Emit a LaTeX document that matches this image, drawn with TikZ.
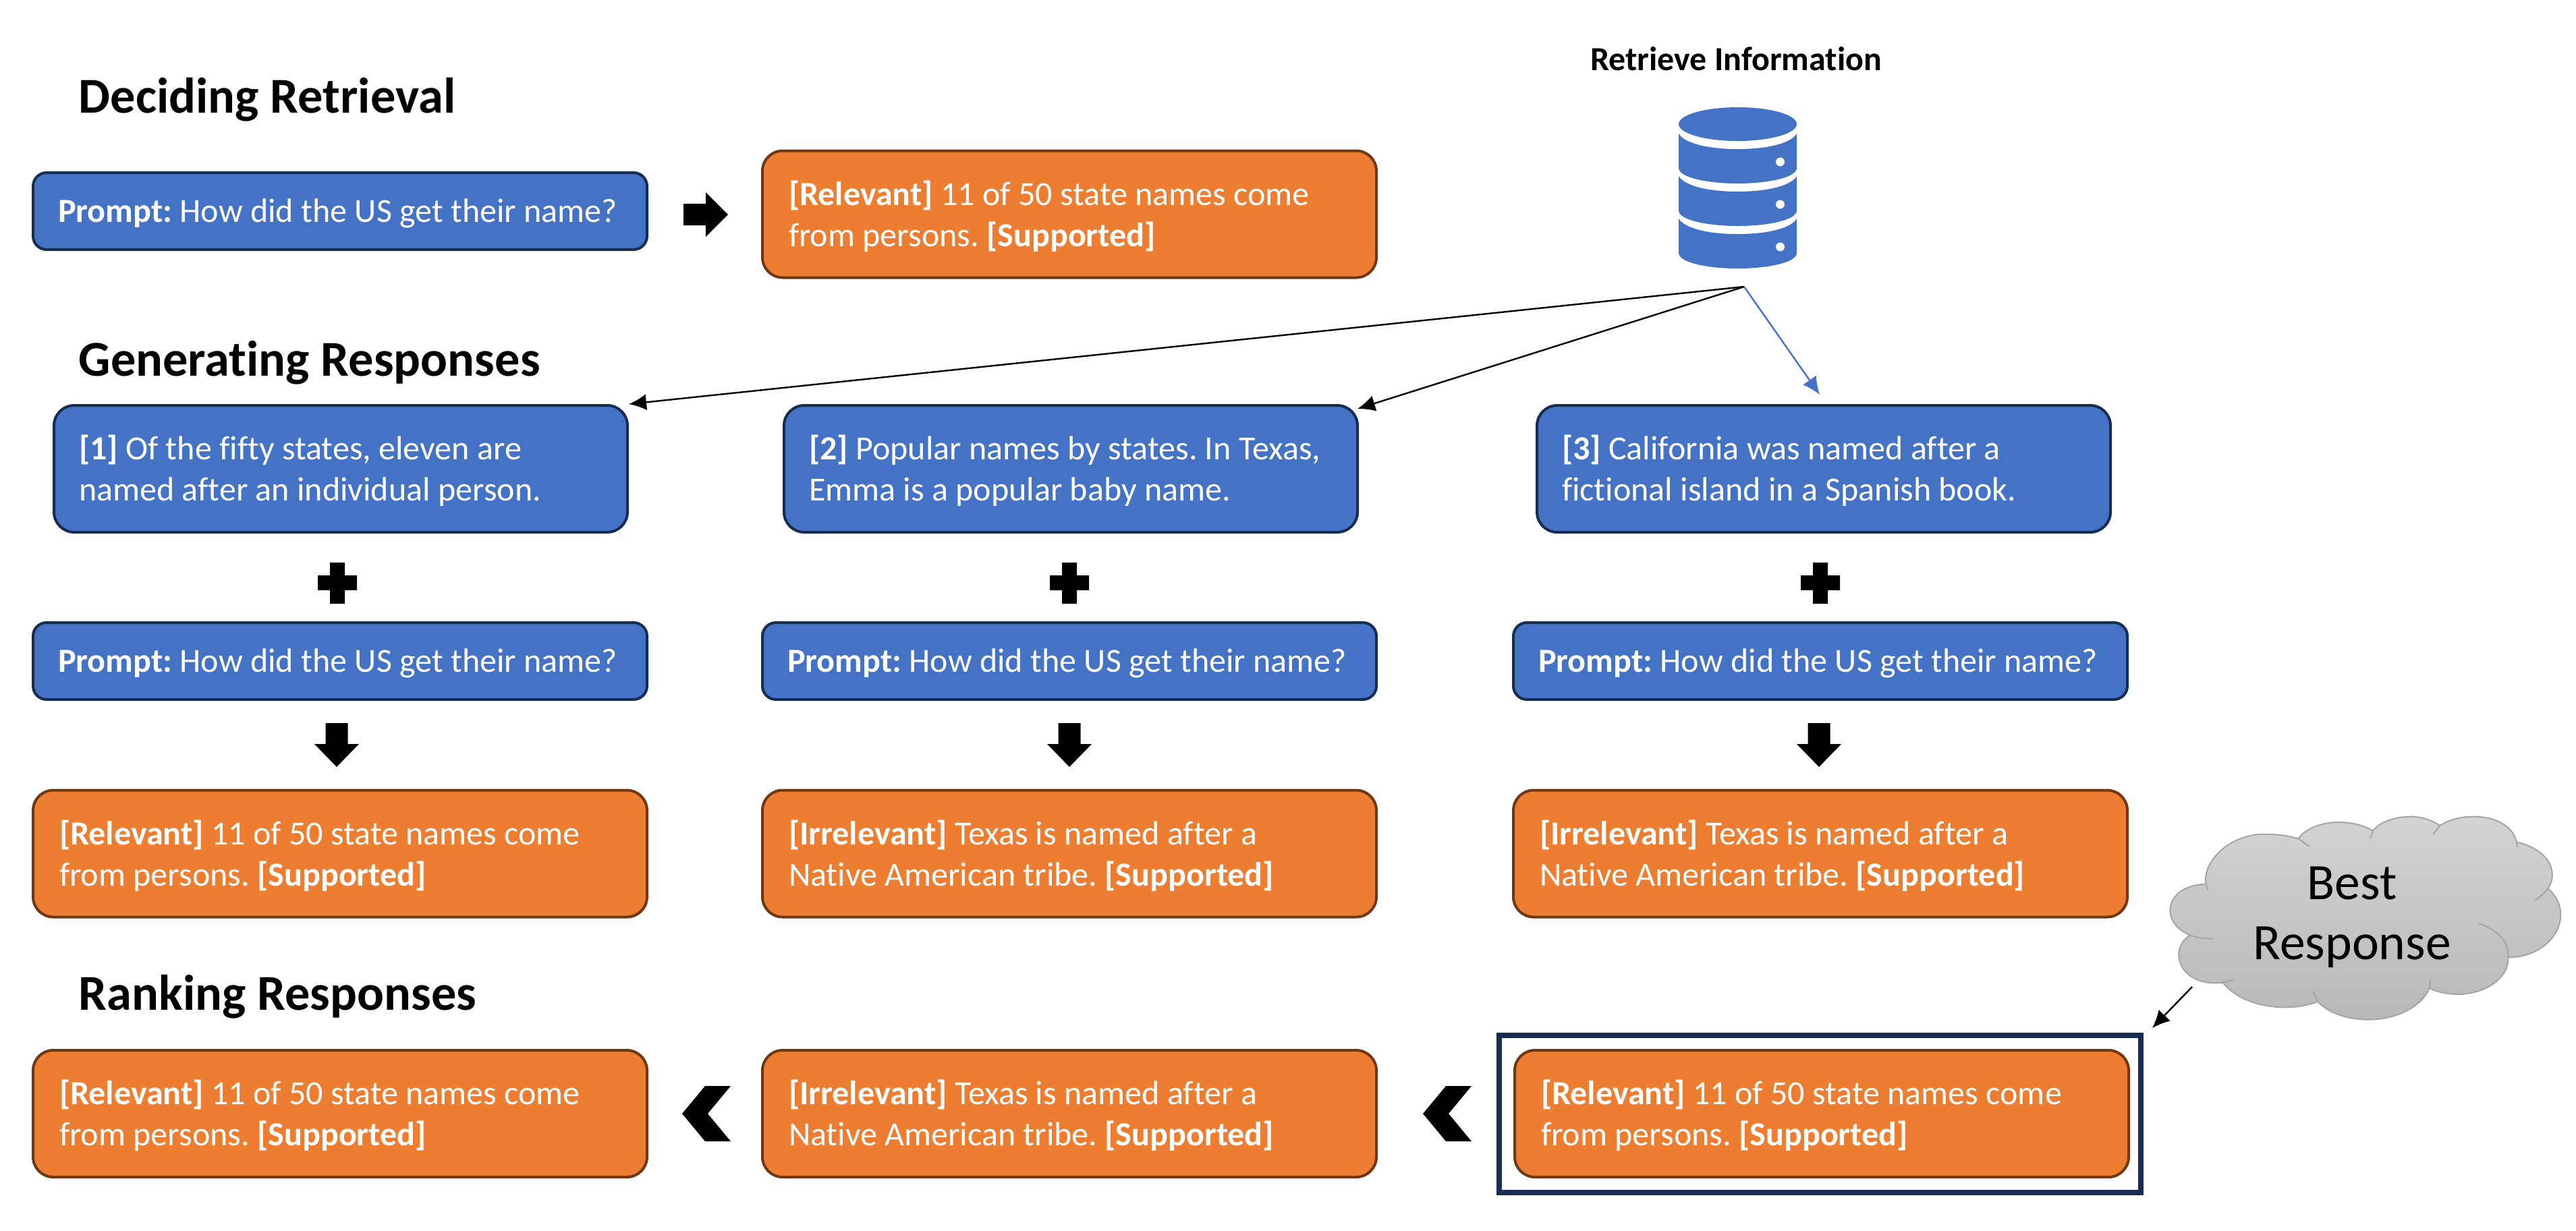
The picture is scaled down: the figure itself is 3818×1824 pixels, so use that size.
\documentclass[tikz,border=0pt]{standalone}
\usepackage{fontspec}
\setmainfont[Ligatures=NoCommon]{Carlito}
\AtBeginDocument{\frenchspacing}
\usetikzlibrary{arrows.meta,calc}
\definecolor{bluefill}{HTML}{4472C4}
\definecolor{blueline}{HTML}{172C51}
\definecolor{orangefill}{HTML}{ED7D31}
\definecolor{orangeline}{HTML}{6F3712}
\definecolor{cloudedge}{HTML}{A5A5A5}
\definecolor{cloudtop}{HTML}{D3D3D3}
\definecolor{cloudbottom}{HTML}{B8B8B8}
\tikzset{
  basebox/.style={draw,line width=1pt,text=white,align=flush left,inner sep=0pt,anchor=center,font=\fontsize{12.52}{15.3}\selectfont,execute at begin node={\rule{0pt}{10.6pt}}},
  promptbox/.style={basebox,fill=bluefill,draw=blueline,rounded corners=5pt,minimum width=227.5pt,minimum height=28.5pt,text width=209pt},
  docbox/.style={basebox,fill=bluefill,draw=blueline,rounded corners=7.5pt,minimum width=212.5pt,minimum height=47pt,text width=194pt},
  orangebox/.style={basebox,fill=orangefill,draw=orangeline,rounded corners=7.5pt,minimum width=227.5pt,minimum height=47pt,text width=208pt},
  heading/.style={anchor=base west,inner sep=0pt,font=\fontsize{18.6}{22}\selectfont\bfseries},
  blockshape/.style={fill=black},
  thinarrow/.style={line width=0.6pt,-{Latex[length=6.5pt,width=6pt]}},
  cloudline/.style={draw=cloudedge,line width=0.5pt}
}
\begin{document}
\begin{tikzpicture}[x=0.25pt,y=-0.25pt]
\useasboundingbox[fill=white] (0,0) rectangle (3818,1824);
% headings
\node[heading] (h1) at (116,167) {Deciding Retrieval};
\node[heading] (h2) at (116,557) {Generating Responses};
\node[heading] (h3) at (116,1497) {Ranking Responses};
\node[anchor=base,inner sep=0pt,font=\fontsize{12.5}{14}\selectfont\bfseries] (ri) at (2573,104) {Retrieve Information};
% row 1
\node[promptbox] (p0) at (504,313) {\textbf{Prompt:} How did the US get their name?};
\node[orangebox] (o0) at (1585,317.5) {\textbf{[Relevant]} 11 of 50 state names come\\from persons. \textbf{[Supported]}};
% documents
\node[docbox] (d1) at (505,695) {\textbf{[1]} Of the fifty states, eleven are\\named after an individual person.};
\node[docbox] (d2) at (1587,695) {\textbf{[2]} Popular names by states. In Texas,\\Emma is a popular baby name.};
\node[docbox] (d3) at (2703,695) {\textbf{[3]} California was named after a\\fictional island in a Spanish book.};
% prompts
\node[promptbox] (p1) at (504,980) {\textbf{Prompt:} How did the US get their name?};
\node[promptbox] (p2) at (1585,980) {\textbf{Prompt:} How did the US get their name?};
\node[promptbox] (p3) at (2698,980) {\textbf{Prompt:} How did the US get their name?};
% responses
\node[orangebox] (r1) at (504,1265.5) {\textbf{[Relevant]} 11 of 50 state names come\\from persons. \textbf{[Supported]}};
\node[orangebox] (r2) at (1585,1265.5) {\textbf{[Irrelevant]} Texas is named after a\\Native American tribe. \textbf{[Supported]}};
\node[orangebox] (r3) at (2698,1265.5) {\textbf{[Irrelevant]} Texas is named after a\\Native American tribe. \textbf{[Supported]}};
% ranking
\node[orangebox] (k1) at (504,1651) {\textbf{[Relevant]} 11 of 50 state names come\\from persons. \textbf{[Supported]}};
\node[orangebox] (k2) at (1585,1651) {\textbf{[Irrelevant]} Texas is named after a\\Native American tribe. \textbf{[Supported]}};
\node[orangebox] (k3) at (2700,1651) {\textbf{[Relevant]} 11 of 50 state names come\\from persons. \textbf{[Supported]}};
\node[draw=blueline,line width=2pt,inner sep=0pt,minimum width=237.75pt,minimum height=58.25pt] (best) at (2697.5,1651.5) {};
% plus signs
\foreach \cx in {500,1585,2698}{
  \fill[blockshape] ($(\cx,864.5)+(-11,-30.5)$) -- ++(22,0) -- ++(0,19) -- ++(18,0) -- ++(0,22) -- ++(-18,0) -- ++(0,20) -- ++(-22,0) -- ++(0,-20) -- ++(-18,0) -- ++(0,-22) -- ++(18,0) -- cycle;
}
% down arrows
\foreach \cx in {499,1585,2696}{
  \fill[blockshape] (\cx-16.5,1072) -- (\cx+16.5,1072) -- (\cx+16.5,1103) -- (\cx+33,1103) -- (\cx,1137) -- (\cx-33,1103) -- (\cx-16.5,1103) -- cycle;
}
% right arrow
\fill[blockshape] (1013,302) -- (1046,302) -- (1046,285) -- (1079,318) -- (1046,351) -- (1046,334) -- (1013,334) -- cycle;
% chevrons
\foreach \cx in {1011,2109}{
  \fill[blockshape] (\cx+72,1610) -- (\cx+34,1610) -- (\cx,1651) -- (\cx+34,1692) -- (\cx+72,1692) -- (\cx+38,1651) -- cycle;
}
% database
\fill[bluefill] (2575.5,184) circle [x radius=87.5,y radius=25];
\foreach \dy in {0,63,126}{
  \begin{scope}[shift={(0,\dy)}]
  \fill[bluefill] (2488,198) -- (2488,249) .. controls (2488,263) and (2530,272) .. (2575.5,272) .. controls (2621,272) and (2663,263) .. (2663,249) -- (2663,198) .. controls (2655,212) and (2621,221) .. (2575.5,221) .. controls (2530,221) and (2496,212) .. (2488,198) -- cycle;
  \fill[white] (2638.5,240) circle [x radius=6.5,y radius=6.5];
  \end{scope}
}
% cloud
\begin{scope}[shift={(3200,1190)},xscale=0.389,yscale=0.3333]
\path[top color=cloudtop,bottom color=cloudbottom,cloudline]
 (178,362) .. controls (165,260) and (270,140) .. (400,140) .. controls (450,140) and (500,148) .. (530,160)
 .. controls (560,110) and (630,85) .. (690,87) .. controls (740,88) and (790,105) .. (815,125)
 .. controls (840,85) and (900,62) .. (960,62) .. controls (1000,62) and (1045,80) .. (1070,102)
 .. controls (1105,75) and (1150,62) .. (1200,62) .. controls (1290,62) and (1350,110) .. (1362,175)
 .. controls (1440,195) and (1498,250) .. (1498,320) .. controls (1498,345) and (1492,365) .. (1482,382)
 .. controls (1515,415) and (1530,455) .. (1530,500) .. controls (1530,600) and (1440,690) .. (1330,688)
 .. controls (1335,780) and (1240,852) .. (1140,852) .. controls (1095,852) and (1060,842) .. (1030,825)
 .. controls (1000,910) and (900,965) .. (800,965) .. controls (710,965) and (640,930) .. (605,885)
 .. controls (570,900) and (530,910) .. (480,910) .. controls (380,910) and (290,870) .. (243,800)
 .. controls (230,802) and (220,802) .. (210,802) .. controls (130,802) and (75,745) .. (75,675) .. controls (75,640) and (90,610) .. (118,590)
 .. controls (70,565) and (42,525) .. (42,480) .. controls (42,410) and (100,365) .. (178,362)
 -- cycle;
\draw[cloudline] (530,160) .. controls (545,170) and (560,185) .. (572,195);
\draw[cloudline] (815,125) -- (805,158);
\draw[cloudline] (1070,102) -- (1045,140);
\draw[cloudline] (1362,175) -- (1365,198);
\draw[cloudline] (1482,382) .. controls (1470,400) and (1450,420) .. (1432,435);
\draw[cloudline] (1218,537) .. controls (1290,565) and (1335,620) .. (1330,688);
\draw[cloudline] (1030,825) -- (1035,785);
\draw[cloudline] (605,885) -- (588,838);
\draw[cloudline] (243,800) -- (283,788);
\draw[cloudline] (118,590) .. controls (145,600) and (175,605) .. (205,605);
\draw[cloudline] (178,362) -- (186,387);
\end{scope}
\node[inner sep=0pt,align=center,font=\fontsize{18.9}{22.3}\selectfont] (cl) at (3486,1360) {Best\\Response};
% connectors
\coordinate (dbout) at (2585,425);
\coordinate (blueend) at (2697,585);
\coordinate (d2end) at (2012,606);
\coordinate (cloudout) at (3249,1463);
\coordinate (bestend) at (3190,1524);
\draw[thinarrow] (dbout) -- (d1.north east);
\draw[thinarrow] (dbout) -- (d2end);
\draw[thinarrow,draw=bluefill,fill=bluefill] (dbout) -- (blueend);
\draw[thinarrow] (cloudout) -- (bestend);
\end{tikzpicture}
\end{document}
